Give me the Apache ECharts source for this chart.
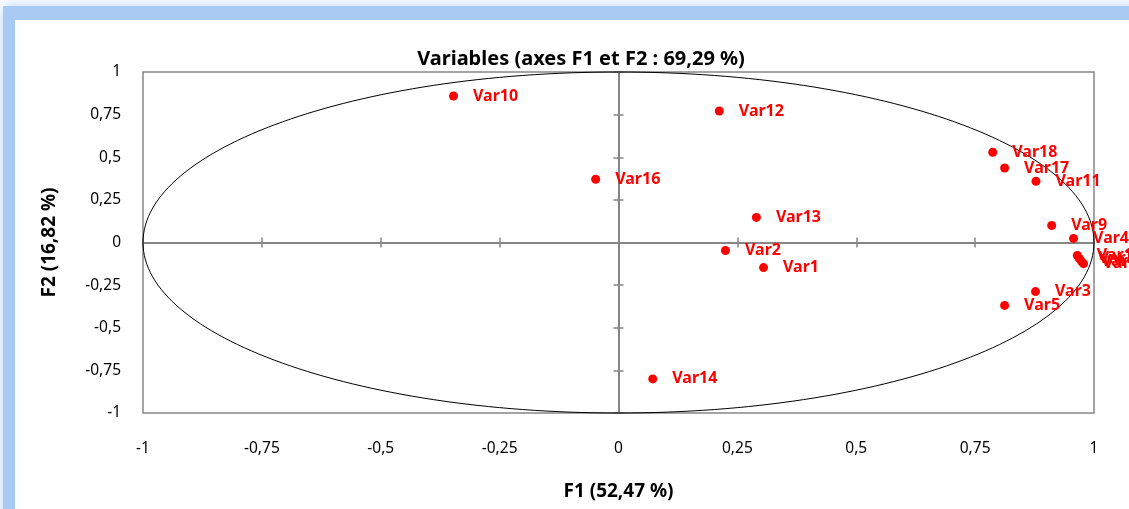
<!DOCTYPE html>
<html>
<head>
<meta charset="utf-8">
<script src="https://cdn.jsdelivr.net/npm/echarts@6/dist/echarts.min.js"></script>
<style>
html,body{margin:0;padding:0;background:#fff;}
#chart{width:1129px;height:509px;}
</style>
</head>
<body>
<div id="chart"></div>
<script>
// Data
var varNames = ['Var1','Var2','Var3','Var4','Var5','Var6','Var7','Var8','Var9','Var10','Var11','Var12','Var13','Var14','Var15','Var16','Var17','Var18'];
var f1Values = [0.305, 0.225, 0.877, 0.957, 0.812, 0.974, 0.969, 0.978, 0.911, -0.347, 0.878, 0.212, 0.290, 0.072, 0.965, -0.048, 0.812, 0.787];
var f2Values = [-0.147, -0.047, -0.288, 0.024, -0.369, -0.112, -0.094, -0.124, 0.100, 0.859, 0.359, 0.771, 0.147, -0.800, -0.076, 0.371, 0.437, 0.529];
var axisMin = -1, axisMax = 1, axisStep = 0.25;
var titleText = 'Variables (axes F1 et F2 : 69,29 %)';
var xName = 'F1 (52,47 %)';
var yName = 'F2 (16,82 %)';

var FONT = 'Noto Sans';
var GRAY = '#868686';
function fmt(v){ return String(v).replace('.', ','); }

var points = varNames.map(function(n, i){ return {name: n, value: [f1Values[i], f2Values[i]]}; });

function baseX(extra){
  return Object.assign({type:'value', min:axisMin, max:axisMax, interval:axisStep, splitLine:{show:false}}, extra);
}

var chart = echarts.init(document.getElementById('chart'), null, {renderer:'canvas'});
chart.setOption({
  backgroundColor:'#ffffff',
  animation:false,
  graphic:[
    {type:'rect', z:-10, shape:{x:3, y:6, width:1300, height:700}, style:{fill:'#a9cbf3', shadowBlur:14, shadowColor:'#b8d4f5'}},
    {type:'rect', z:-9, shape:{x:15, y:20, width:1300, height:700}, style:{fill:'#ffffff'}}
  ],
  title:{
    text:titleText, left:576, top:44, textAlign:'center',
    textStyle:{fontFamily:FONT, fontWeight:'bold', fontSize:20, color:'#000'}
  },
  grid:{left:143, right:35, top:72, bottom:96, show:true, borderColor:GRAY, borderWidth:1.5, backgroundColor:'transparent'},
  xAxis:[
    baseX({position:'bottom', axisLine:{show:false, onZero:false}, axisTick:{show:false},
      axisLabel:{margin:28, fontFamily:FONT, fontSize:15.5, color:'#000', formatter:fmt},
      name:xName, nameLocation:'middle', nameGap:69,
      nameTextStyle:{fontFamily:FONT, fontWeight:'bold', fontSize:19, color:'#000'}}),
    baseX({position:'bottom', axisLine:{show:true, onZero:true, lineStyle:{color:GRAY, width:2}},
      axisTick:{show:true, inside:true, length:5, lineStyle:{color:GRAY, width:1.5}}, axisLabel:{show:false}}),
    baseX({position:'bottom', axisLine:{show:true, onZero:true, lineStyle:{color:GRAY, width:2}},
      axisTick:{show:true, inside:false, length:5, lineStyle:{color:GRAY, width:1.5}}, axisLabel:{show:false}})
  ],
  yAxis:[
    baseX({position:'left', axisLine:{show:false, onZero:false}, axisTick:{show:false},
      axisLabel:{margin:22, fontFamily:FONT, fontSize:15.5, color:'#000', formatter:fmt},
      name:yName, nameLocation:'middle', nameGap:84, nameRotate:90,
      nameTextStyle:{fontFamily:FONT, fontWeight:'bold', fontSize:19, color:'#000'}}),
    baseX({position:'left', axisLine:{show:true, onZero:true, lineStyle:{color:GRAY, width:2}},
      axisTick:{show:true, inside:true, length:5, lineStyle:{color:GRAY, width:1.5}}, axisLabel:{show:false}}),
    baseX({position:'left', axisLine:{show:true, onZero:true, lineStyle:{color:GRAY, width:2}},
      axisTick:{show:true, inside:false, length:5, lineStyle:{color:GRAY, width:1.5}}, axisLabel:{show:false}})
  ],
  series:[
    {
      type:'custom', xAxisIndex:0, yAxisIndex:0, z:3, silent:true,
      data:[[0,0]],
      renderItem:function(params, api){
        var c = api.coord([api.value(0), api.value(1)]);
        var s = api.size([1,1]);
        return {type:'ellipse', shape:{cx:c[0], cy:c[1], rx:s[0], ry:s[1]},
          style:{fill:'none', stroke:'#000', lineWidth:1}};
      }
    },
    {
      type:'scatter', xAxisIndex:0, yAxisIndex:0, z:5,
      symbolSize:9, itemStyle:{color:'#ff0000', opacity:1},
      data:points,
      label:{show:true, position:'right', distance:15, formatter:'{b}',
        fontFamily:FONT, fontWeight:'bold', fontSize:16, color:'#ff0000', offset:[0,3]},
      labelLayout:{hideOverlap:false}
    }
  ]
});
</script>
</body>
</html>
